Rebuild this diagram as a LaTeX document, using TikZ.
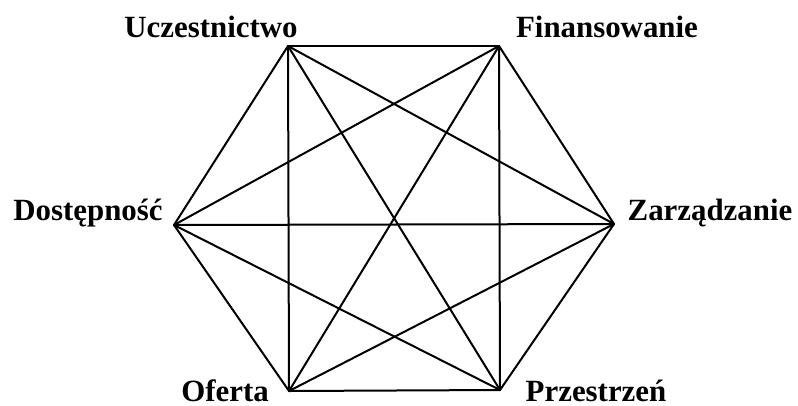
\documentclass[tikz,border=0pt]{standalone}
\usepackage{fontspec}
\setmainfont{Liberation Serif}
\begin{document}
\begin{tikzpicture}[x=1bp,y=-1bp,
  edge/.style={line width=2bp,line cap=round,line join=round},
  lbl/.style={font=\fontsize{31}{31}\selectfont\bfseries,inner sep=0pt}]
\useasboundingbox (0,0) rectangle (798,405);
\coordinate (U) at (288,46);
\coordinate (F) at (499,46);
\coordinate (Z) at (614,224);
\coordinate (P) at (500,390);
\coordinate (O) at (289,391);
\coordinate (D) at (174,225);
\foreach \a/\b in {U/F,F/Z,Z/P,P/O,O/D,D/U,U/Z,U/P,U/O,F/D,F/O,F/P,D/Z,D/P,Z/O}
  \draw[edge] (\a) -- (\b);
\node[lbl] (lu) at (211,27) {Uczestnictwo};
\node[lbl] (lf) at (607,27) {Finansowanie};
\node[lbl] (ld) at (88,213) {Dostępność};
\node[lbl] (lz) at (710,213) {Zarządzanie};
\node[lbl] (lo) at (225,391) {Oferta};
\node[lbl] (lp) at (596,391) {Przestrzeń};
\end{tikzpicture}
\end{document}
